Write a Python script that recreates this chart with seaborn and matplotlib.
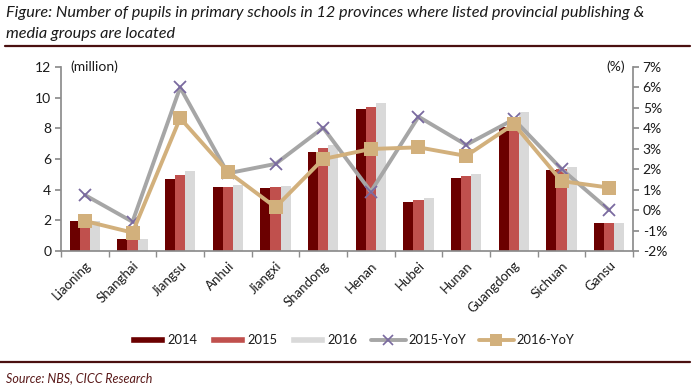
import numpy as np
import pandas as pd
import matplotlib
matplotlib.use("Agg")
import matplotlib.pyplot as plt
from matplotlib.patches import Patch
from matplotlib.lines import Line2D
import seaborn as sns

provinces = ["Liaoning", "Shanghai", "Jiangsu", "Anhui", "Jiangxi", "Shandong",
             "Henan", "Hubei", "Hunan", "Guangdong", "Sichuan", "Gansu"]
pupils_2014 = [1.95, 0.77, 4.69, 4.15, 4.13, 6.47, 9.29, 3.19, 4.73, 8.10, 5.28, 1.80]
pupils_2015 = [1.96, 0.77, 4.97, 4.19, 4.20, 6.75, 9.36, 3.35, 4.88, 8.35, 5.38, 1.80]
pupils_2016 = [1.95, 0.78, 5.21, 4.30, 4.21, 6.90, 9.66, 3.45, 5.00, 9.05, 5.49, 1.80]
yoy_2015 = [0.74, -0.57, 6.0, 1.8, 2.26, 4.03, 0.9, 4.57, 3.19, 4.44, 2.01, 0.0]
yoy_2016 = [-0.53, -1.1, 4.5, 1.88, 0.14, 2.5, 2.99, 3.07, 2.65, 4.21, 1.42, 1.1]
years = ["2014", "2015", "2016"]
left_ticks = [0, 2, 4, 6, 8, 10, 12]
right_ticks = [-2, -1, 0, 1, 2, 3, 4, 5, 6, 7]

c2014, c2015, c2016 = "#6b0000", "#c0504d", "#d9d9d9"
cyoy15, cx15 = "#a6a6a6", "#7a6aa0"
cyoy16 = "#d2b07c"
txt = "#1a1a1a"
rule = "#4a1010"

df = pd.DataFrame({
    "province": provinces * 3,
    "year": sum([[y] * len(provinces) for y in years], []),
    "value": pupils_2014 + pupils_2015 + pupils_2016,
})

sns.set_theme(style="white")
plt.rcParams["font.family"] = ["Lato", "DejaVu Sans"]

fig = plt.figure(figsize=(7.0, 3.88), dpi=100)
ax = fig.add_axes([61/700, 1-251/388, (633-61)/700, (251-67)/388])

sns.barplot(data=df, x="province", y="value", hue="year", order=provinces,
            hue_order=years, palette=[c2014, c2015, c2016], width=0.64,
            saturation=1, ax=ax, legend=False, errorbar=None, linewidth=0)
ax.set_xlim(-0.5, len(provinces) - 0.5)
ax.set_ylim(0, 12)
ax.set_yticks(left_ticks)
ax.set_xlabel("")
ax.set_ylabel("")

ax2 = ax.twinx()
pos = np.arange(len(provinces))
sns.lineplot(x=pos, y=yoy_2015, ax=ax2, color=cyoy15, linewidth=2.8,
             marker="x", markersize=9, markeredgewidth=1.3,
             markeredgecolor=cx15, markerfacecolor=cx15, zorder=3)
sns.lineplot(x=pos, y=yoy_2016, ax=ax2, color=cyoy16, linewidth=2.8,
             marker="s", markersize=10, markeredgewidth=0,
             markerfacecolor=cyoy16, zorder=4)
ax2.set_ylim(-2, 7)
ax2.set_yticks(right_ticks)
ax2.set_yticklabels([f"{t}%" for t in right_ticks])
ax2.set_xlim(-0.5, len(provinces) - 0.5)

spine_c = "#8c8c8c"
for a in (ax, ax2):
    for s in a.spines.values():
        s.set_visible(False)
ax.spines["left"].set_visible(True)
ax.spines["bottom"].set_visible(True)
ax2.spines["right"].set_visible(True)
ax.spines["left"].set_color(spine_c)
ax.spines["bottom"].set_color(spine_c)
ax2.spines["right"].set_color(spine_c)

ax.tick_params(axis="y", direction="out", length=4, color=spine_c, labelsize=10,
               labelcolor=txt, pad=3, left=True)
ax2.tick_params(axis="y", direction="out", length=4, color=spine_c, labelsize=10,
                labelcolor=txt, pad=3, right=True)
ax.set_xticks(pos)
ax.set_xticklabels(provinces, rotation=45, ha="right", rotation_mode="anchor",
                   fontsize=9.5, color=txt)
ax.tick_params(axis="x", which="major", length=0, pad=6)
ax.set_xticks(np.arange(-0.5, len(provinces), 1.0), minor=True)
ax.tick_params(axis="x", which="minor", direction="out", length=4, color=spine_c,
               bottom=True)
ax.set_zorder(1)
ax2.set_zorder(2)
ax.patch.set_visible(False)

fig.text(70/700, 1-67/388, "(million)", fontsize=10, color=txt, va="center", ha="left")
fig.text(625/700, 1-67/388, "(%)", fontsize=10, color=txt, va="center", ha="right")

fig.text(6/700, 1-13/388, "Figure: Number of pupils in primary schools in 12 provinces where listed provincial publishing &",
         fontsize=11.7, style="italic", color=txt, va="center", ha="left")
fig.text(6/700, 1-34/388, "media groups are located",
         fontsize=11.7, style="italic", color=txt, va="center", ha="left")
fig.add_artist(Line2D([5/700, 690/700], [1-46/388, 1-46/388], color=rule, lw=1.6))
fig.add_artist(Line2D([0, 690/700], [1-362/388, 1-362/388], color=rule, lw=1.6))
fig.text(6/700, 1-378/388, "Source: NBS, CICC Research", fontsize=9, style="italic",
         color="#5a1a1a", va="center", ha="left")

handles = [Patch(facecolor=c2014), Patch(facecolor=c2015), Patch(facecolor=c2016),
           Line2D([], [], color=cyoy15, lw=2.8, marker="x", markersize=7,
                  markeredgecolor=cx15, markeredgewidth=1.2),
           Line2D([], [], color=cyoy16, lw=2.8, marker="s", markersize=8,
                  markeredgewidth=0)]
fig.legend(handles, ["2014", "2015", "2016", "2015-YoY", "2016-YoY"],
           loc="center", bbox_to_anchor=(352/700, 1-340/388), ncol=5,
           frameon=False, fontsize=9.3, handlelength=2.7, handleheight=0.5,
           columnspacing=1.0, handletextpad=0.2, labelcolor=txt)

fig.savefig("out.png", dpi=100, facecolor="white")
